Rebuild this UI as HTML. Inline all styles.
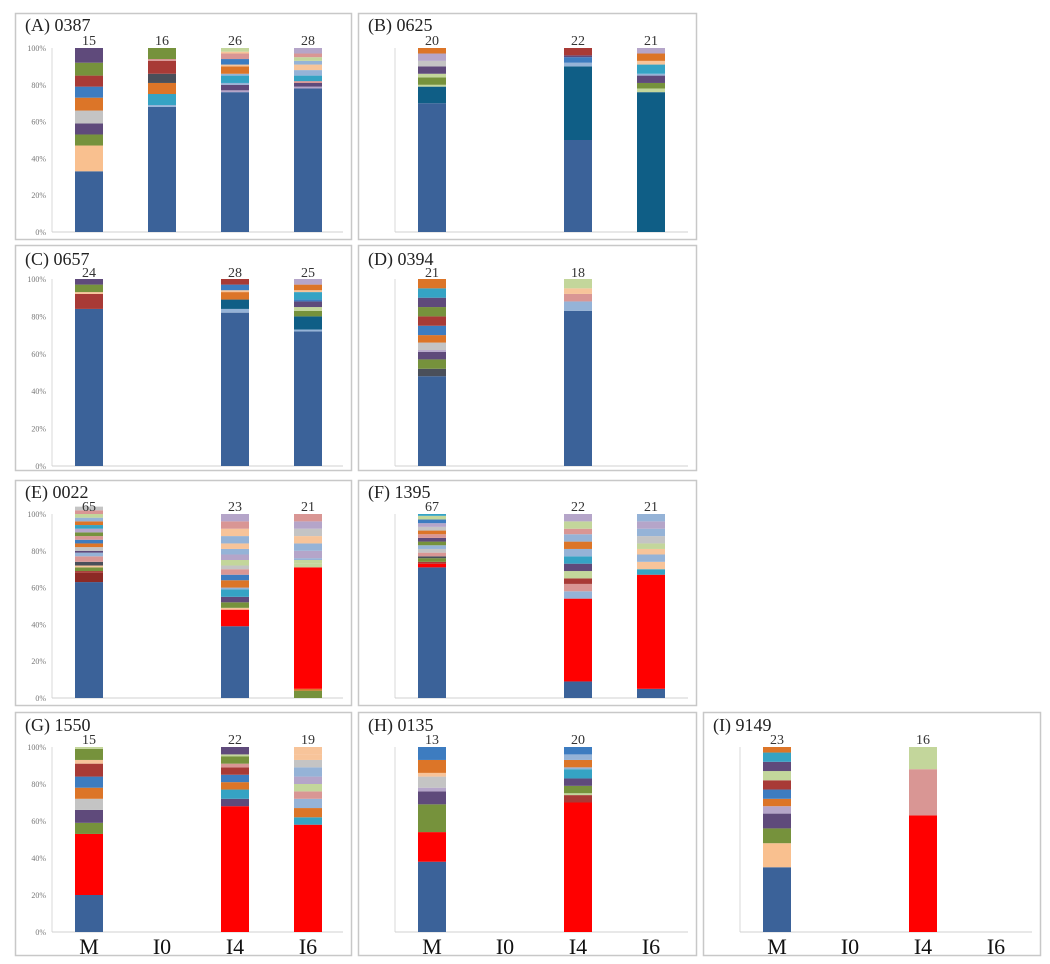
<!DOCTYPE html>
<html><head><meta charset="utf-8"><style>
html,body{margin:0;padding:0;background:#fff;}
svg{display:block;}
</style></head><body>
<svg id="fig" width="1050" height="964" xmlns="http://www.w3.org/2000/svg"></svg>
<script>
// categories and printed labels
const categories = ["M","I0","I4","I6"];
const tickLabels = ["0%","20%","40%","60%","80%","100%"];
const tickValues = [0,20,40,60,80,100];
const panelTitles = ["(A) 0387","(B) 0625","(C) 0657","(D) 0394","(E) 0022","(F) 1395","(G) 1550","(H) 0135","(I) 9149"];
// counts printed above bars (null = no bar)
const countsA = [15,16,26,28];
const countsB = [20,null,22,21];
const countsC = [24,null,28,25];
const countsD = [21,null,18,null];
const countsE = [65,null,23,21];
const countsF = [67,null,22,21];
const countsG = [15,null,22,19];
const countsH = [13,null,20,null];
const countsI = [23,null,16,null];
// stacked segment values (%) bottom -> top, per bar
const valsA = [[33,14,6,6,7,7,6,6,7,8],[68,1,6,6,5,7,1,6],[76,1,3,1,4,1,4,1,3,3,1,2],[78,1,2,1,3,3,3,2,2,2,3]];
const valsB = [[70,9,1,4,2,4,3,4,3],null,[50,40,2,3,1,4],[76,2,3,4,1,5,2,4,3]];
const valsC = [[84,8,1,4,3],null,[82,2,5,4,1,3,3],[72,1,7,3,2,3,1,4,1,3,3]];
const valsD = [[48,4,5,4,1,4,4,5,5,5,5,5,5],null,[83,5,4,3,5],null];
const valsE = [[63,5,1,2,1,2,3,2,1,2,2,2,2,2,2,2,2,2,2,2,2],null,[39,9,1,3,3,4,1,4,3,3,2,3,3,3,3,4,4,4,4],[4,1,66,2,2,1,4,4,4,4,4,4]];
const valsF = [[71,2,1,2,1,2,2,2,2,2,2,2,2,2,2,2,1],null,[9,45,4,4,3,4,4,4,4,4,4,3,4,4],[5,62,3,4,4,3,3,4,4,4,4]];
const valsG = [[20,33,6,7,6,6,6,7,2,6,1],null,[68,4,5,4,4,4,2,4,1,4],[58,4,5,5,4,4,4,5,4,3,4]];
const valsH = [[38,16,15,7,2,6,2,7,7],null,[70,4,1,4,4,5,1,4,3,4],null];
const valsI = [[35,13,8,8,4,4,5,5,5,5,5,3],null,[63,25,12],null];
// segment colour codes (styling), parallel to vals
const colsA = ["BPGUYOMDGU","BACONDKG","BLUACAOFMKFE","BLUKCAFAEKL"];
const colsB = ["BTEGEUYLO",null,"BTAMUD","TEGUACFOL"];
const colsC = ["BDFGU",null,"BATOFMD","BATGEUMCFOL"];
const colsD = ["BNGULYOMDGUCO",null,"BAKFE",null];
const colsE = ["BXDGFNKAUYOMKGLCOAEKYL",null,"BRFGUCAOMKYELAFAFKL","GOREEALAFYLK"];
const colsF = ["BRDGNKYAGUKOYLMEC",null,"BRAKDEUCAOAKEL","BRCFAFEYALA"];
const colsG = ["BRGUYOMDFGE",null,"RUCOMDKGEU","RCOAKELAYFF"];
const colsH = ["BRGULYFOM",null,"RDEGUCAOAM",null];
const colsI = ["BPGULOMDEUCO",null,"RKE",null];
const palette = {B:"#3b6299",T:"#0f5e86",R:"#ff0000",P:"#f9c08f",G:"#76923c",U:"#5f4a7b",Y:"#c4c4c4",O:"#dc7528",M:"#3d7cc0",D:"#a83a36",C:"#35a3c4",L:"#b5a5c9",K:"#d99694",E:"#c3d69b",F:"#f7c49a",A:"#95b3d7",N:"#4a4f5a",X:"#8c2a25"};

const panels = [
 {x0:15,x1:351,row:0,ticks:true,cats:false,counts:countsA,vals:valsA,cols:colsA},
 {x0:358,x1:696,row:0,ticks:false,cats:false,counts:countsB,vals:valsB,cols:colsB},
 {x0:15,x1:351,row:1,ticks:true,cats:false,counts:countsC,vals:valsC,cols:colsC},
 {x0:358,x1:696,row:1,ticks:false,cats:false,counts:countsD,vals:valsD,cols:colsD},
 {x0:15,x1:351,row:2,ticks:true,cats:false,counts:countsE,vals:valsE,cols:colsE},
 {x0:358,x1:696,row:2,ticks:false,cats:false,counts:countsF,vals:valsF,cols:colsF},
 {x0:15,x1:351,row:3,ticks:true,cats:true,counts:countsG,vals:valsG,cols:colsG},
 {x0:358,x1:696,row:3,ticks:false,cats:true,counts:countsH,vals:valsH,cols:colsH},
 {x0:703,x1:1040,row:3,ticks:false,cats:true,counts:countsI,vals:valsI,cols:colsI}
];
const rows = [
 {y0:13,y1:239,top:48,bot:232,title:31,count:45},
 {y0:245,y1:470,top:279,bot:466,title:265,count:277},
 {y0:480,y1:705,top:514,bot:698,title:498,count:511},
 {y0:712,y1:955,top:747,bot:932,title:731,count:744}
];
const NS="http://www.w3.org/2000/svg";
const svg=document.getElementById('fig');
function mk(tag,attrs,parent){const e=document.createElementNS(NS,tag);for(const k in attrs)e.setAttribute(k,attrs[k]);(parent||svg).appendChild(e);return e;}

panels.forEach((p,pi)=>{
  const r=rows[p.row];
  const g=mk('g',{});
  
  
  const box=mk('rect',{x:p.x0+0.5,y:r.y0+0.5,width:p.x1-p.x0,height:r.y1-r.y0,fill:'#fff',stroke:'#c8c8c8','stroke-width':1.5},g);
  
  
  const yS=v=>r.bot-(v/100)*(r.bot-r.top);
  const xS=i=>p.x0+74+i*73;
  const axX=p.x0+37;
  const ax=mk('line',{x1:axX,y1:r.top,x2:axX,y2:r.bot,stroke:'#d8d8d8','stroke-width':1},g);
  
  
  const bl=mk('line',{x1:axX,y1:r.bot,x2:p.x1-8,y2:r.bot,stroke:'#d0d0d0','stroke-width':1},g);
  
  
  if(p.ticks){
    tickValues.forEach((tv,ti)=>{
      const t=mk('text',{x:axX-6,y:yS(tv)+3,'text-anchor':'end','font-family':'Liberation Serif, serif','font-size':8,fill:'#777'},g);
      t.textContent=tickLabels[ti];
      
      
    });
  }
  p.vals.forEach((vals,bi)=>{
    if(!vals) return;
    let cum=0;
    const cs=p.cols[bi];
    vals.forEach((v,si)=>{
      const y1=yS(cum), y2=yS(cum+v);
      const rc=mk('rect',{x:xS(bi)-14,y:y2,width:28,height:Math.max(0,y1-y2),fill:palette[cs[si]]||'#999'},g);
      
      
      cum+=v;
    });
  });
  p.counts.forEach((c,bi)=>{
    if(c===null) return;
    const t=mk('text',{x:xS(bi),y:r.count,'text-anchor':'middle','font-family':'Liberation Serif, serif','font-size':14,fill:'#333'},g);
    t.textContent=c;
    
    
  });
  const tt=mk('text',{x:p.x0+10,y:r.title,'font-family':'Liberation Serif, serif','font-size':18,fill:'#222'},g);
  tt.textContent=panelTitles[pi];
  
  
  if(p.cats){
    categories.forEach((c,ci)=>{
      const t=mk('text',{x:xS(ci),y:954,'text-anchor':'middle','font-family':'Liberation Serif, serif','font-size':22,fill:'#111'},g);
      t.textContent=c;
      
      
    });
  }
});
</script>
</body></html>
